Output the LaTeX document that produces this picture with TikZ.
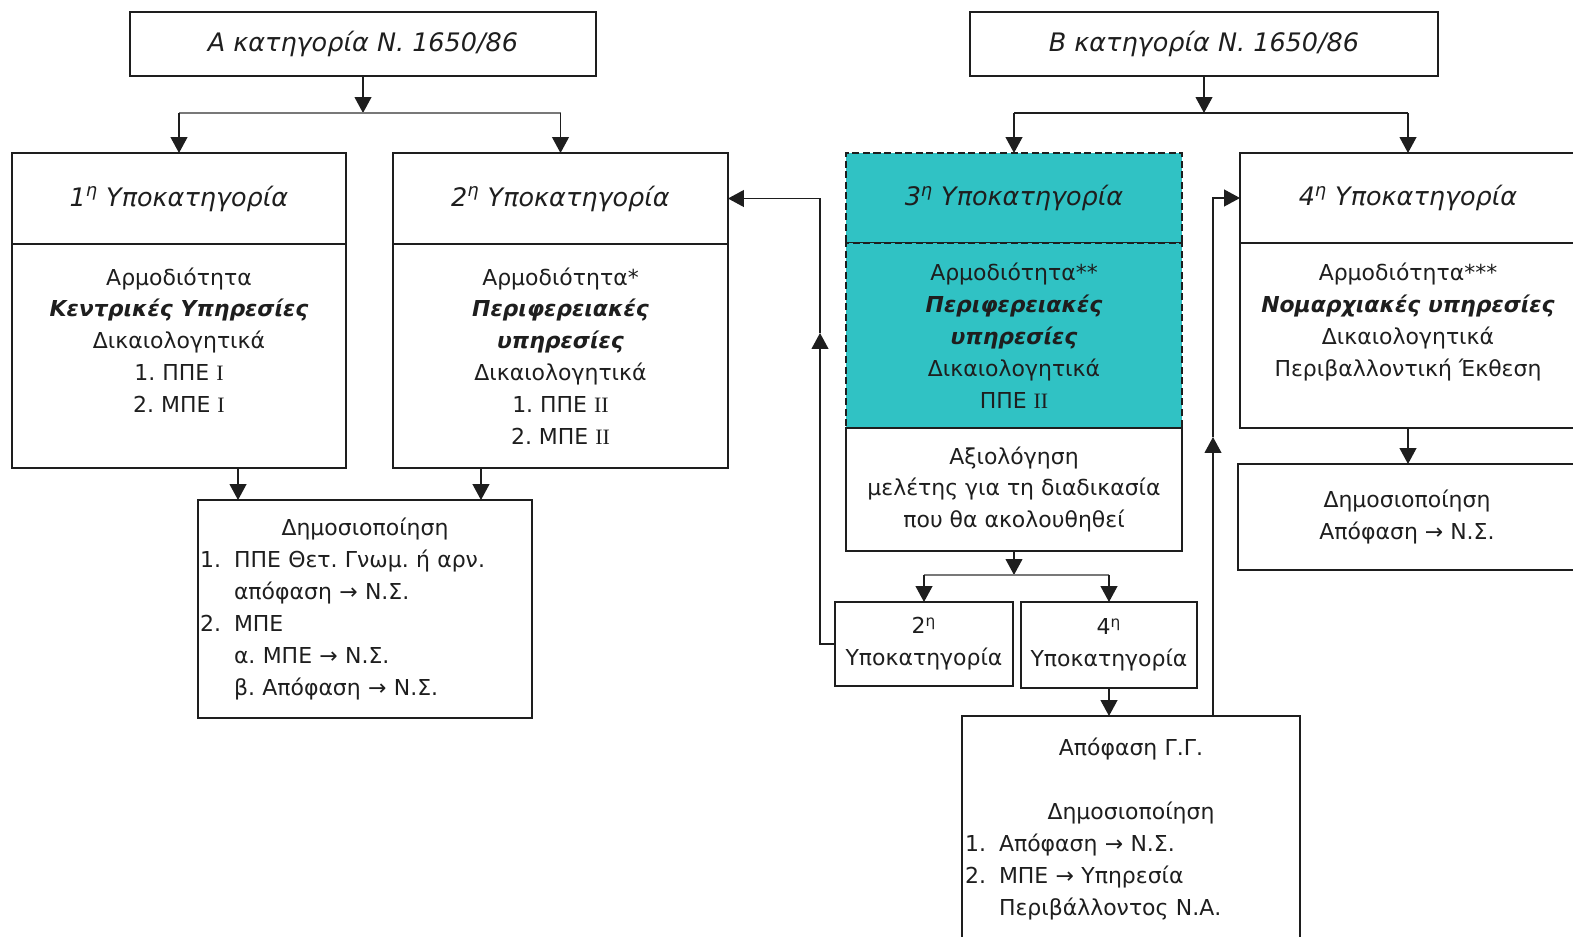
\documentclass[tikz,border=0pt]{standalone}
\usepackage{fontspec}
\setmainfont{DejaVu Sans}
\newfontfamily\romfont{Liberation Serif}
\usetikzlibrary{positioning,arrows.meta}
\definecolor{tealbox}{RGB}{48,194,196}
\definecolor{ink}{RGB}{30,30,30}
\newcommand\catfont{\fontsize{14.5}{17}\selectfont\itshape}
\newcommand\bodyfont{\fontsize{12.5}{18.14}\selectfont\frenchspacing}
\newcommand\bitext[1]{\textbf{\textit{#1}}}
\newcommand\numbox[1]{\makebox[0.68cm][l]{#1}}
\tikzset{
  box/.style={draw=ink, line width=1.1pt, outer sep=0pt, inner sep=1pt, align=center, text=ink, font=\bodyfont},
  cat/.style={box, font=\catfont, minimum height=1.28cm},
  subhead/.style={box, font=\catfont, minimum width=#1, minimum height=1.82cm},
  subbody/.style={box, minimum width=#1, minimum height=4.48cm},
  sub3/.style={fill=tealbox, dash pattern=on 4pt off 2pt},
  link/.style={draw=ink, line width=0.85pt, -{Triangle[width=9.5pt,length=9pt]}},
  bar/.style={draw=ink!60, line width=1pt}
}
\begin{document}
\begin{tikzpicture}[x=0.02cm,y=-0.02cm]
  \useasboundingbox (0,0) rectangle (1573,937);
  %category A
  \node[cat, minimum width=9.32cm] (catA) at (363,44) {Α κατηγορία Ν. 1650/86};
  \node[subhead=6.68cm] (sub1t) at (179,198.5) {1\textsuperscript{η} Υποκατηγορία};
  \node[subbody=6.68cm, below=0pt of sub1t] (sub1b) {Αρμοδιότητα\\ \bitext{Κεντρικές Υπηρεσίες}\\ Δικαιολογητικά\\ 1. ΠΠΕ {\romfont I}\\ 2. ΜΠΕ {\romfont I}\\ \mbox{}};
  \node[subhead=6.7cm] (sub2t) at (560.5,198.5) {2\textsuperscript{η} Υποκατηγορία};
  \node[subbody=6.7cm, below=0pt of sub2t] (sub2b) {Αρμοδιότητα*\\ \bitext{Περιφερειακές}\\ \bitext{υπηρεσίες}\\ Δικαιολογητικά\\ 1. ΠΠΕ {\romfont II}\\ 2. ΜΠΕ {\romfont II}};
  \node[box, minimum width=6.68cm, minimum height=4.36cm, text width=6.6cm, align=left, inner xsep=0.04cm] (pub1) at (365,609)
    {\makebox[6.6cm]{Δημοσιοποίηση}\\
     \numbox{1.}ΠΠΕ Θετ. Γνωμ. ή αρν.\\
     \hspace*{0.68cm}απόφαση → Ν.Σ.\\
     \numbox{2.}ΜΠΕ\\
     \hspace*{0.68cm}α. ΜΠΕ → Ν.Σ.\\
     \hspace*{0.68cm}β. Απόφαση → Ν.Σ.};
  %category B
  \node[cat, minimum width=9.36cm] (catB) at (1204,44) {Β κατηγορία Ν. 1650/86};
  \node[subhead=6.72cm, sub3, minimum height=1.8cm] (sub3t) at (1014,198) {3\textsuperscript{η} Υποκατηγορία};
  \node[subbody=6.72cm, sub3, minimum height=3.7cm, below=0pt of sub3t] (sub3b) {Αρμοδιότητα**\\ \bitext{Περιφερειακές}\\ \bitext{υπηρεσίες}\\ Δικαιολογητικά\\ ΠΠΕ {\romfont II}};
  \node[box, minimum width=6.72cm, minimum height=2.46cm, below=0pt of sub3b] (eval) {Αξιολόγηση\\ μελέτης για τη διαδικασία\\ που θα ακολουθηθεί};
  \node[box, minimum width=3.56cm, minimum height=1.68cm] (small2) at (924,644) {2\textsuperscript{η}\\ Υποκατηγορία};
  \node[box, minimum width=3.52cm, minimum height=1.72cm] (small4) at (1109,645) {4\textsuperscript{η}\\ Υποκατηγορία};
  \node[box, minimum width=6.76cm, minimum height=4.52cm, text width=6.64cm, align=left, inner xsep=0.06cm] (gg) at (1131,829)
    {\makebox[6.64cm]{Απόφαση Γ.Γ.}\\[18.14pt]
     \makebox[6.64cm]{Δημοσιοποίηση}\\
     \numbox{1.}Απόφαση → Ν.Σ.\\
     \numbox{2.}ΜΠΕ → Υπηρεσία\\
     \hspace*{0.68cm}Περιβάλλοντος Ν.Α.};
  \node[subhead=6.72cm, minimum height=1.8cm] (sub4t) at (1408,198) {4\textsuperscript{η} Υποκατηγορία};
  \node[subbody=6.72cm, minimum height=3.7cm, below=0pt of sub4t] (sub4b) {Αρμοδιότητα***\\ \bitext{Νομαρχιακές υπηρεσίες}\\ Δικαιολογητικά\\ Περιβαλλοντική Έκθεση\\ \mbox{}};
  \node[box, minimum width=6.76cm, minimum height=2.12cm] (pub4) at (1407,517) {Δημοσιοποίηση\\ Απόφαση → Ν.Σ.};
  %arrows A
  \draw[link] (catA.south) -- ++(0,37) coordinate (splitA);
  \draw[bar] (splitA -| sub1t) -- (splitA -| sub2t);
  \draw[link] (splitA -| sub1t) -- (sub1t.north);
  \draw[link] (splitA -| sub2t) -- (sub2t.north);
  \draw[link] ([xshift=0.8cm]pub1.north west |- sub1b.south) -- ([xshift=0.8cm]pub1.north west);
  \draw[link] ([xshift=5.66cm]pub1.north west |- sub2b.south) -- ([xshift=5.66cm]pub1.north west);
  %arrows B
  \draw[link] (catB.south) -- ++(0,37) coordinate (splitB);
  \draw[link] (splitB -| sub3t) -- (sub3t.north);
  \draw[link] (splitB -| sub4t) -- (sub4t.north);
  \draw[ink, line width=0.85pt] (splitB -| sub3t) -- (splitB -| sub4t);
  \draw[link] (eval.south) -- ++(0,24) coordinate (splitE);
  \draw[bar] (splitE -| small2) -- (splitE -| small4);
  \draw[link] (splitE -| small2) -- (small2.north);
  \draw[link] (splitE -| small4) -- (small4.north);
  \draw[link] (small4.south) -- (small4.south |- gg.north);
  \draw[link] (sub4b.south) -- (sub4b.south |- pub4.north);
  %back to 2nd and 4th
  \coordinate (up2) at (820,333);
  \draw[link] (small2.west) -| (up2);
  \draw[link] (up2) |- (sub2t.east);
  \coordinate (up4) at (1213,437);
  \draw[link] (up4 |- gg.north) -- (up4);
  \draw[link] (up4) |- (sub4t.west);
\end{tikzpicture}
\end{document}
